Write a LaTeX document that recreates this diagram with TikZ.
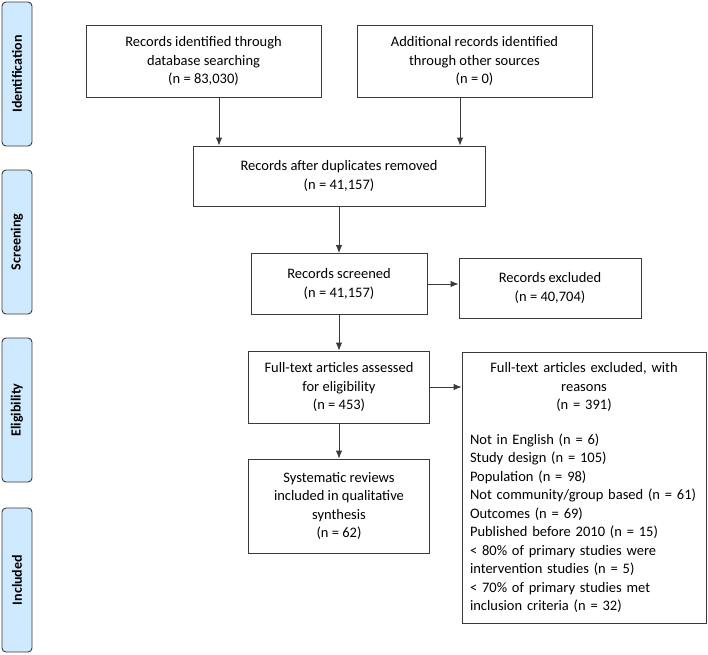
\documentclass[tikz,border=0pt]{standalone}
\usepackage{fontspec}
\usetikzlibrary{arrows.meta}
\setmainfont{Carlito}
\definecolor{boxline}{HTML}{3A3A3A}
\definecolor{phaseblue}{HTML}{CFEAFE}
\begin{document}
\begin{tikzpicture}[x=1pt, y=-1pt, >={Latex[length=8pt,width=6.5pt]}]
    \tikzstyle{prisma_box}   = [shape = rectangle, draw = boxline, line width=0.9pt, align=center, font=\fontsize{14.5}{18.5}\selectfont]
    \tikzstyle{prisma_list}  = [shape = rectangle, draw = boxline, line width=0.9pt, align=left, text width=228pt, font=\fontsize{14.5}{18.5}\selectfont]
    \tikzstyle{prisma_phase} = [shape = rectangle, rounded corners=4pt, draw = boxline, fill = phaseblue, line width=0.9pt, rotate=90, minimum width=144pt, minimum height=30pt, font=\bfseries\fontsize{14}{17}\selectfont]

    \useasboundingbox (0,0) rectangle (708,654);

    % phases
    \node[prisma_phase] at (17,  74)  (ph_id)   {Identification};
    \node[prisma_phase] at (17, 242)  (ph_scr)  {Screening};
    \node[prisma_phase] at (17, 410)  (ph_elig) {Eligibility};
    \node[prisma_phase] at (17, 580)  (ph_incl) {Included};

    % flow
    \node[prisma_box, minimum width=235pt, minimum height=72pt] at (203.5, 61) (rec_db)
      {Records identified through\\database searching\\(n = 83,030)};
    \node[prisma_box, minimum width=235pt, minimum height=72pt] at (474.5, 61) (rec_other)
      {Additional records identified\\through other sources\\(n = 0)};

    \node[prisma_box, minimum width=292pt, minimum height=60pt] at (339, 176) (rec_dedup)
      {Records after duplicates removed\\(n = 41,157)};

    \node[prisma_box, minimum width=176pt, minimum height=61pt] at (339, 284) (rec_scr)
      {Records screened\\(n = 41,157)};
    \node[prisma_box, minimum width=182pt, minimum height=60pt] at (550, 288) (rec_excl)
      {Records excluded\\(n = 40,704)};

    \node[prisma_box, minimum width=181pt, minimum height=72pt] at (339, 387) (ft_ass)
      {Full-text articles assessed\\for eligibility\\(n = 453)};
    \node[prisma_list, minimum width=244pt, minimum height=271pt] at (584, 487.5) (ft_excl)
      {{\centering Full-text articles excluded, with\\reasons\\(n = 391)\par}\vspace{16pt}%
       Not in English (n = 6)\\
       Study design (n = 105)\\
       Population (n = 98)\\
       Not community/group based (n = 61)\\
       Outcomes (n = 69)\\
       Published before 2010 (n = 15)\\
       < 80\% of primary studies were\\
       intervention studies (n = 5)\\
       < 70\% of primary studies met\\
       inclusion criteria (n = 32)};

    \node[prisma_box, minimum width=181pt, minimum height=94pt] at (339, 506) (sr_incl)
      {Systematic reviews\\included in qualitative\\synthesis\\(n = 62)};

    \path[->, line width=0.9pt, boxline]
      ([xshift=15.5pt]rec_db.south)     edge ([xshift=15.5pt]rec_db.south |- rec_dedup.north)
      ([xshift=-14.5pt]rec_other.south) edge ([xshift=-14.5pt]rec_other.south |- rec_dedup.north)
      (rec_dedup) edge (rec_scr)
      (rec_scr.east) edge (rec_scr.east -| rec_excl.west)
      (rec_scr) edge (ft_ass)
      (ft_ass.east) edge (ft_ass.east -| ft_excl.west)
      (ft_ass) edge (sr_incl)
    ;
  \end{tikzpicture}
\end{document}
